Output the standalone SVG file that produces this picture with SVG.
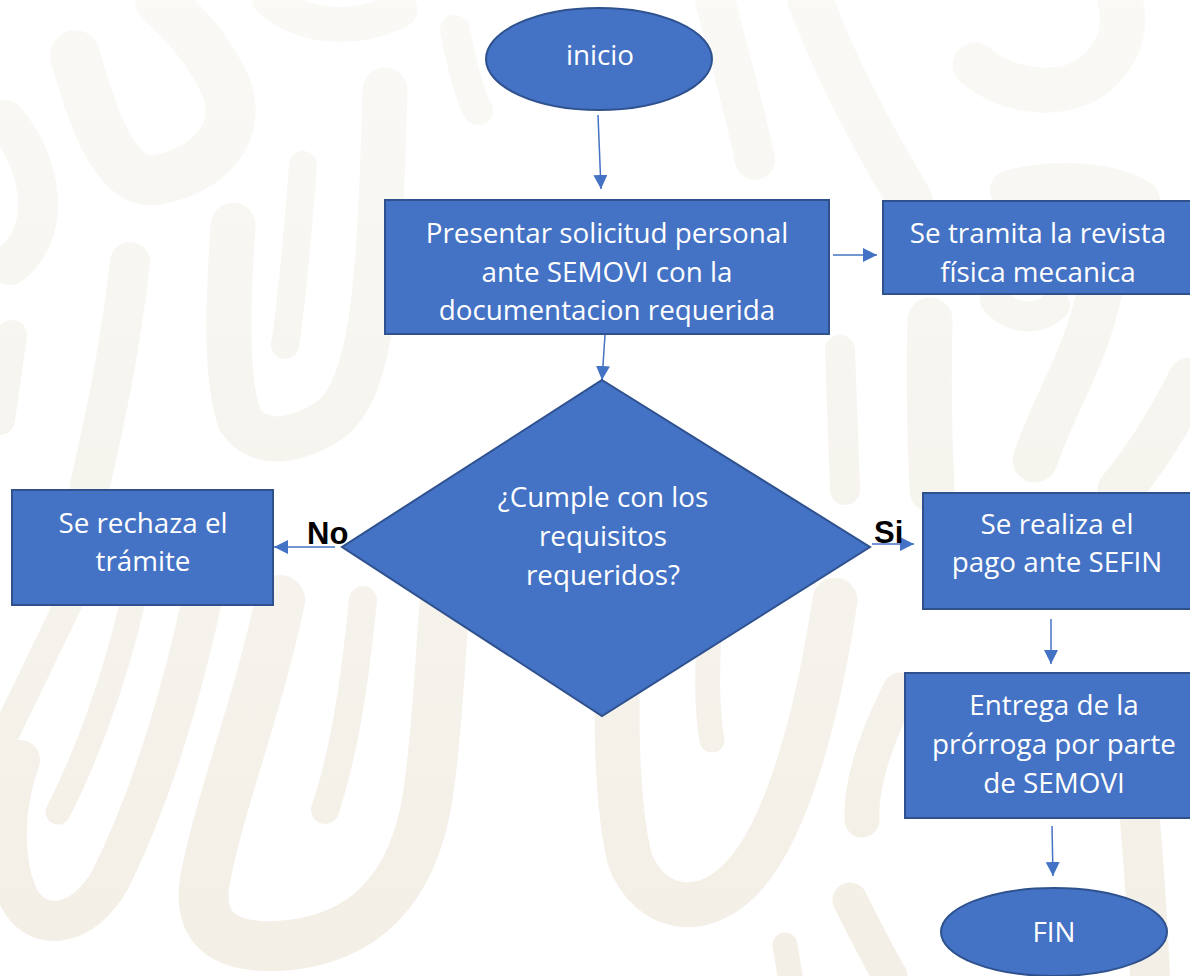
<svg xmlns="http://www.w3.org/2000/svg" width="1190" height="976" viewBox="0 0 1190 976">
<style>
.wm{fill:none;stroke:url(#wmg);stroke-linecap:round;stroke-linejoin:round}
.shape{fill:#4472C4;stroke:#2F528F;stroke-width:2}
.t{font-family:"Open Sans","Noto Sans","Liberation Sans",sans-serif;font-size:27.8px;fill:#FFFFFF;text-anchor:middle}
.lbl{font-family:"Liberation Sans",Arial,sans-serif;font-size:31px;font-weight:bold;fill:#000000}
.conn{fill:none;stroke:#4472C4;stroke-width:1.5;marker-end:url(#arr)}
</style>
<defs>
<linearGradient id="wmg" gradientUnits="userSpaceOnUse" x1="0" y1="0" x2="0" y2="976">
<stop offset="0" stop-color="#FAF9F6"/>
<stop offset="1" stop-color="#F3EFE6"/>
</linearGradient>
<marker id="arr" markerUnits="userSpaceOnUse" markerWidth="16" markerHeight="16" refX="14" refY="7" orient="auto">
<path d="M0,0 L14,7 L0,14 Z" fill="#4472C4"/>
</marker>
</defs>
<rect width="1190" height="976" fill="#FFFFFF"/>
<g id="watermark">
<path class="wm" stroke-width="50" d="M75 55 C95 130,120 185,155 180 C210 172,245 130,225 85 C210 50,185 25,160 0"/>
<path class="wm" stroke-width="35" d="M270 0 C300 25,350 35,400 10"/>
<path class="wm" stroke-width="40" d="M5 120 C40 160,55 230,10 265"/>
<path class="wm" stroke-width="30" d="M12 335 L0 420"/>
<path class="wm" stroke-width="40" d="M130 262 C120 350,105 420,90 485"/>
<path class="wm" stroke-width="45" d="M233 225 C228 300,225 380,240 420 C260 450,300 440,330 420 C370 390,380 300,385 90"/>
<path class="wm" stroke-width="28" d="M303 165 C298 230,292 300,285 345"/>
<path class="wm" stroke-width="30" d="M455 30 C465 80,472 100,478 110"/>
<path class="wm" stroke-width="28" d="M70 600 L0 745"/>
<path class="wm" stroke-width="40" d="M202 600 C180 700,150 800,110 880 C85 925,40 935,20 900 C0 860,5 800,20 760"/>
<path class="wm" stroke-width="25" d="M133 600 C115 680,85 760,58 812"/>
<path class="wm" stroke-width="50" d="M280 600 C260 700,220 800,205 880 C195 940,240 950,290 945 C380 935,420 870,430 780 C440 700,440 650,445 600"/>
<path class="wm" stroke-width="28" d="M363 600 C355 680,345 750,325 810"/>
<path class="wm" stroke-width="40" d="M715 0 C730 60,745 110,755 160"/>
<path class="wm" stroke-width="45" d="M810 0 C840 80,880 150,910 200"/>
<path class="wm" stroke-width="45" d="M975 65 C1010 95,1070 100,1100 70 C1125 45,1125 20,1120 0"/>
<path class="wm" stroke-width="40" d="M1010 190 C1060 178,1110 182,1140 200"/>
<path class="wm" stroke-width="45" d="M930 320 C928 400,930 450,932 490"/>
<path class="wm" stroke-width="30" d="M840 350 L845 490"/>
<path class="wm" stroke-width="30" d="M995 300 C1010 320,1040 322,1055 305"/>
<path class="wm" stroke-width="45" d="M1100 290 C1085 360,1060 390,1035 460"/>
<path class="wm" stroke-width="45" d="M1190 380 C1170 420,1145 460,1120 490"/>
<path class="wm" stroke-width="45" d="M620 600 C615 700,615 800,630 860 C650 910,700 920,740 880 C790 830,820 700,835 600"/>
<path class="wm" stroke-width="25" d="M710 600 C708 660,705 700,712 740"/>
<path class="wm" stroke-width="35" d="M900 690 C880 730,860 780,862 820"/>
<path class="wm" stroke-width="35" d="M850 900 C870 940,880 960,890 976"/>
<path class="wm" stroke-width="25" d="M785 945 L790 976"/>
<path class="wm" stroke-width="40" d="M1140 820 C1145 880,1148 930,1150 976"/>
</g>
<g id="connectors">
<line class="conn" x1="598" y1="115" x2="601" y2="189"/>
<line class="conn" x1="833" y1="255" x2="877" y2="255"/>
<line class="conn" x1="605" y1="335" x2="602" y2="380"/>
<line class="conn" x1="335" y1="547" x2="274" y2="547"/>
<line class="conn" x1="872" y1="544" x2="914" y2="544"/>
<line class="conn" x1="1051" y1="619" x2="1051" y2="664"/>
<line class="conn" x1="1052" y1="826" x2="1053" y2="876"/>
</g>
<g id="inicio">
<ellipse class="shape" cx="599" cy="59" rx="113" ry="51"/>
<text class="t" x="600" y="65">inicio</text>
</g>
<g id="presentar">
<rect class="shape" x="385" y="200" width="444" height="134"/>
<text class="t" x="607" y="243">Presentar solicitud personal</text>
<text class="t" x="607" y="282">ante SEMOVI con la</text>
<text class="t" x="607" y="320">documentacion requerida</text>
</g>
<g id="revista">
<rect class="shape" x="883" y="201" width="312" height="93"/>
<text class="t" x="1038" y="243">Se tramita la revista</text>
<text class="t" x="1038" y="282">física mecanica</text>
</g>
<g id="decision">
<polygon class="shape" points="602,380 870,547 602,716 342,547"/>
<text class="t" x="603" y="507">¿Cumple con los</text>
<text class="t" x="603" y="546">requisitos</text>
<text class="t" x="603" y="585">requeridos?</text>
</g>
<g id="label-no">
<text class="lbl" x="307" y="544">No</text>
</g>
<g id="label-si">
<text class="lbl" x="874" y="543">Si</text>
</g>
<g id="rechaza">
<rect class="shape" x="12" y="490" width="261" height="115"/>
<text class="t" x="143" y="533">Se rechaza el</text>
<text class="t" x="143" y="571">trámite</text>
</g>
<g id="pago">
<rect class="shape" x="923" y="493" width="272" height="116"/>
<text class="t" x="1057" y="534">Se realiza el</text>
<text class="t" x="1057" y="572">pago ante SEFIN</text>
</g>
<g id="entrega">
<rect class="shape" x="905" y="673" width="290" height="145"/>
<text class="t" x="1054" y="715">Entrega de la</text>
<text class="t" x="1054" y="754">prórroga por parte</text>
<text class="t" x="1054" y="793">de SEMOVI</text>
</g>
<g id="fin">
<ellipse class="shape" cx="1054" cy="932" rx="113" ry="44"/>
<text class="t" x="1054" y="942">FIN</text>
</g>
</svg>
